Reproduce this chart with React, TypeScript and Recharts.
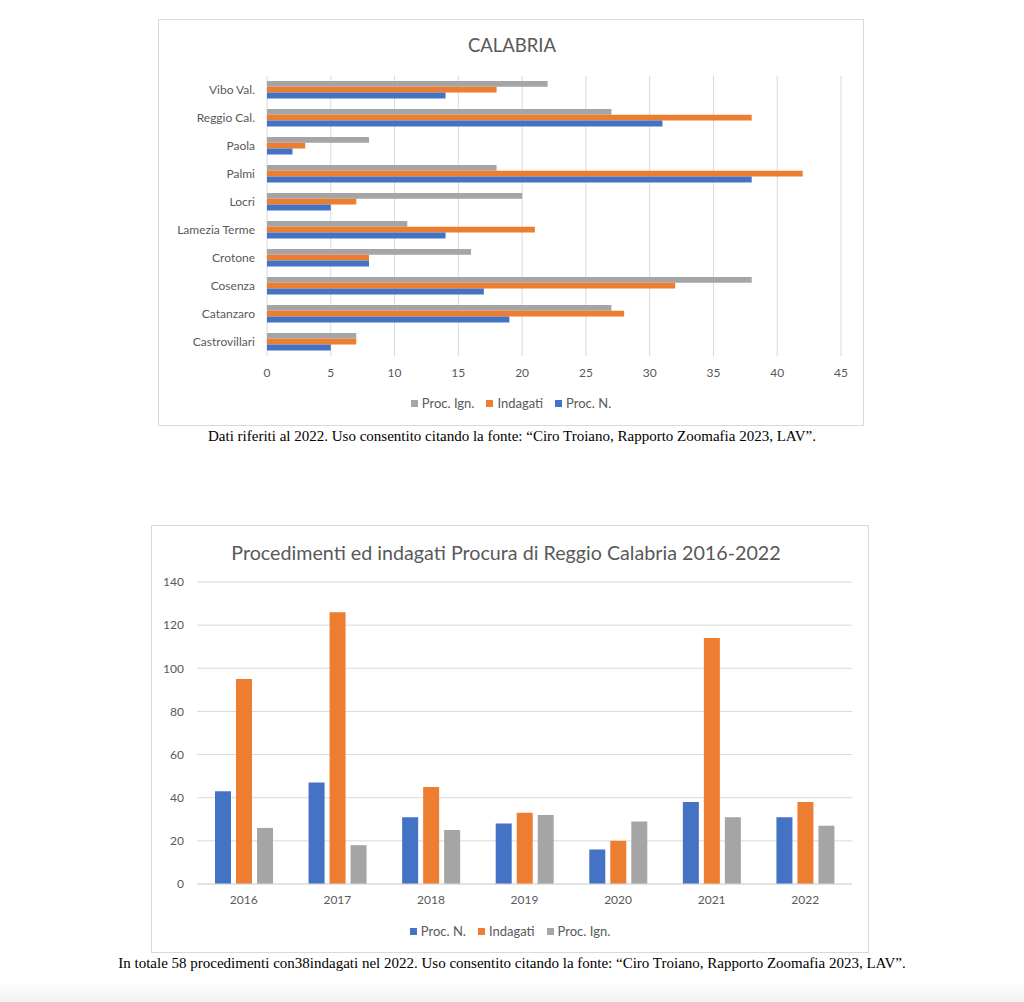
import React from "react";
import { BarChart, Bar, XAxis, YAxis, CartesianGrid, Legend } from "recharts";

// Calabria, dati 2022 (top to bottom as drawn)
const sedi = [
	"Vibo Val.",
	"Reggio Cal.",
	"Paola",
	"Palmi",
	"Locri",
	"Lamezia Terme",
	"Crotone",
	"Cosenza",
	"Catanzaro",
	"Castrovillari",
];
const procIgnCal = [22, 27, 8, 18, 20, 11, 16, 38, 27, 7];
const indagatiCal = [18, 38, 3, 42, 7, 21, 8, 32, 28, 7];
const procNCal = [14, 31, 2, 38, 5, 14, 8, 17, 19, 5];
const xTicksCal = [0, 5, 10, 15, 20, 25, 30, 35, 40, 45];

// Procura di Reggio Calabria 2016-2022
const anni = ["2016", "2017", "2018", "2019", "2020", "2021", "2022"];
const procNRc = [43, 47, 31, 28, 16, 38, 31];
const indagatiRc = [95, 126, 45, 33, 20, 114, 38];
const procIgnRc = [26, 18, 25, 32, 29, 31, 27];
const yTicksRc = [0, 20, 40, 60, 80, 100, 120, 140];

const BLUE = "#4472C4";
const ORANGE = "#ED7D31";
const GRAY = "#A5A5A5";
const TEXT = "#595959";
const GRID = "#D9D9D9";
const FONT = "Lato, 'Open Sans', sans-serif";

const legendCal = [
	{ label: "Proc. Ign.", color: GRAY },
	{ label: "Indagati", color: ORANGE },
	{ label: "Proc. N.", color: BLUE },
];
const legendRc = [
	{ label: "Proc. N.", color: BLUE },
	{ label: "Indagati", color: ORANGE },
	{ label: "Proc. Ign.", color: GRAY },
];

const calData = sedi.map((name, i) => ({
	name,
	ign: procIgnCal[i],
	ind: indagatiCal[i],
	n: procNCal[i],
}));

const rcData = anni.map((anno, i) => ({
	anno,
	n: procNRc[i],
	ind: indagatiRc[i],
	ign: procIgnRc[i],
}));

const tickStyle = { fontSize: 12, fill: TEXT, fontFamily: FONT };

// legend drawn in the series order, not sorted by name
const makeLegend = (items: { label: string; color: string }[]) => () => (
	<div
		style={{
			display: "flex",
			justifyContent: "center",
			alignItems: "center",
			fontSize: 13,
			fontFamily: FONT,
			color: TEXT,
		}}>
		{items.map((it) => (
			<span
				key={it.label}
				style={{ display: "inline-flex", alignItems: "center", margin: "0 6px" }}>
				<span
					style={{
						display: "inline-block",
						width: 7,
						height: 7,
						background: it.color,
						marginRight: 4,
					}}
				/>
				{it.label}
			</span>
		))}
	</div>
);

const boxStyle: React.CSSProperties = {
	position: "absolute",
	border: `1px solid ${GRID}`,
	background: "#fff",
	boxSizing: "border-box",
};

const captionStyle: React.CSSProperties = {
	position: "absolute",
	left: 0,
	width: 1024,
	textAlign: "center",
	fontFamily: "'Liberation Serif', 'Times New Roman', serif",
	fontSize: 15,
	color: "#000",
	whiteSpace: "nowrap",
};

export default function App() {
	return (
		<div
			style={{
				position: "absolute",
				left: 0,
				top: 0,
				width: 1024,
				height: 1002,
				background: "#fff",
				overflow: "hidden",
			}}>
			{/* chart 1 */}
			<div style={{ ...boxStyle, left: 158, top: 19, width: 706, height: 407 }}>
				<div
					style={{
						position: "absolute",
						left: 0,
						width: 706,
						top: 14,
						textAlign: "center",
						fontFamily: FONT,
						fontSize: 18.5,
						color: TEXT,
					}}>
					CALABRIA
				</div>
				<BarChart
					width={704}
					height={405}
					data={calData}
					layout="vertical"
					barGap={0}
					barSize={5.8}
					margin={{ top: 56, right: 22, bottom: 39, left: 0 }}>
					<CartesianGrid horizontal={false} stroke={GRID} />
					<XAxis
						type="number"
						domain={[0, 45]}
						ticks={xTicksCal}
						axisLine={false}
						tickLine={false}
						tick={tickStyle}
						tickMargin={6}
					/>
					<YAxis
						type="category"
						dataKey="name"
						width={108}
						axisLine={false}
						tickLine={false}
						tick={tickStyle}
						tickMargin={6}
					/>
					<Legend
						verticalAlign="middle"
						content={makeLegend(legendCal)}
						wrapperStyle={{ top: 375, left: 0, width: 704 }}
					/>
					<Bar dataKey="ign" name="Proc. Ign." fill={GRAY} isAnimationActive={false} />
					<Bar dataKey="ind" name="Indagati" fill={ORANGE} isAnimationActive={false} />
					<Bar dataKey="n" name="Proc. N." fill={BLUE} isAnimationActive={false} />
				</BarChart>
			</div>
			<div style={{ ...captionStyle, top: 428 }}>
				Dati riferiti al 2022. Uso consentito citando la fonte: “Ciro Troiano, Rapporto Zoomafia 2023, LAV”.
			</div>

			{/* chart 2 */}
			<div style={{ ...boxStyle, left: 151, top: 525, width: 718, height: 428 }}>
				<div
					style={{
						position: "absolute",
						left: 0,
						width: 708,
						top: 15,
						textAlign: "center",
						fontFamily: FONT,
						fontSize: 19.7,
						color: TEXT,
					}}>
					Procedimenti ed indagati Procura di Reggio Calabria 2016-2022
				</div>
				<BarChart
					width={716}
					height={426}
					data={rcData}
					barGap={5}
					barSize={16}
					margin={{ top: 56, right: 16, bottom: 38, left: 0 }}>
					<CartesianGrid vertical={false} stroke={GRID} />
					<XAxis
						dataKey="anno"
						axisLine={{ stroke: GRID }}
						tickLine={false}
						tick={tickStyle}
						tickMargin={5}
					/>
					<YAxis
						domain={[0, 140]}
						ticks={yTicksRc}
						width={45}
						axisLine={false}
						tickLine={false}
						tick={tickStyle}
						tickMargin={7}
					/>
					<Legend
						verticalAlign="middle"
						content={makeLegend(legendRc)}
						wrapperStyle={{ top: 397, left: 0, width: 716 }}
					/>
					<Bar dataKey="n" name="Proc. N." fill={BLUE} isAnimationActive={false} />
					<Bar dataKey="ind" name="Indagati" fill={ORANGE} isAnimationActive={false} />
					<Bar dataKey="ign" name="Proc. Ign." fill={GRAY} isAnimationActive={false} />
				</BarChart>
			</div>
			<div style={{ ...captionStyle, top: 955 }}>
				In totale 58 procedimenti con38indagati nel 2022. Uso consentito citando la fonte: “Ciro Troiano, Rapporto Zoomafia 2023, LAV”.
			</div>

			<div
				style={{
					position: "absolute",
					left: 0,
					top: 982,
					width: 1024,
					height: 20,
					background: "linear-gradient(#ffffff, #f1f1f1)",
				}}
			/>
		</div>
	);
}
